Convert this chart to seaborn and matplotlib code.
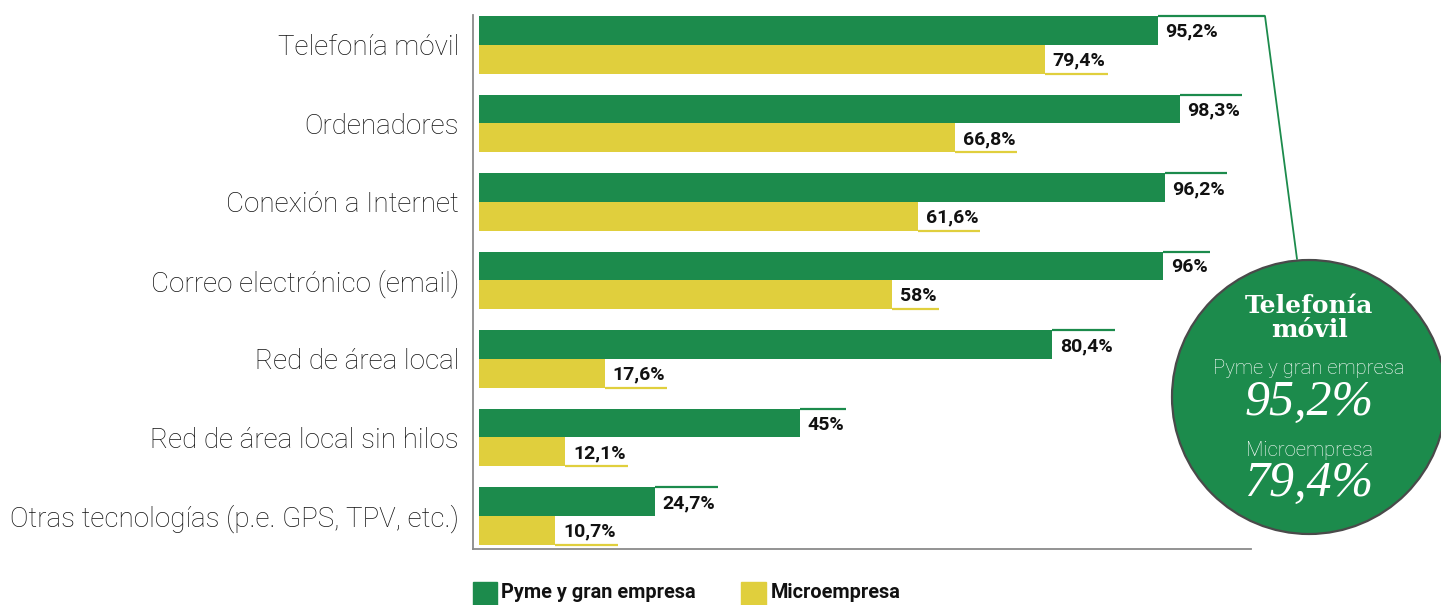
import numpy as np
import pandas as pd
import matplotlib
matplotlib.use("Agg")
import matplotlib.pyplot as plt
import seaborn as sns
from matplotlib.patches import Circle, Rectangle
from matplotlib.lines import Line2D

categories = [
    "Telefonía móvil",
    "Ordenadores",
    "Conexión a Internet",
    "Correo electrónico (email)",
    "Red de área local",
    "Red de área local sin hilos",
    "Otras tecnologías (p.e. GPS, TPV, etc.)",
]
pyme = [95.2, 98.3, 96.2, 96, 80.4, 45, 24.7]
micro = [79.4, 66.8, 61.6, 58, 17.6, 12.1, 10.7]
series = ["Pyme y gran empresa", "Microempresa"]
highlight_title = "Telefonía\nmóvil"
highlight_pyme = "95,2%"
highlight_micro = "79,4%"

GREEN = "#1c8b4c"
YELLOW = "#e0cf3d"

df = pd.DataFrame({
    "cat": categories * 2,
    "serie": [series[0]] * len(categories) + [series[1]] * len(categories),
    "val": pyme + micro,
})

sns.set_theme(style="white")
plt.rcParams["font.family"] = ["Roboto", "DejaVu Sans"]

W, H = 1441, 605
fig = plt.figure(figsize=(W / 100, H / 100), dpi=100)
ax = fig.add_axes([473 / W, (H - 549) / H, (1251 - 473) / W, (549 - 15) / H])

sns.barplot(data=df, y="cat", x="val", hue="serie", order=categories,
            hue_order=series, palette=[GREEN, YELLOW], saturation=1,
            width=0.73, orient="h", errorbar=None, legend=False, ax=ax,
            linewidth=0, edgecolor="none")

ax.set_xlim(-0.85, 108.3)
ax.set_ylim(6.42, -0.38)
ax.set_xticks([])
ax.set_xlabel("")
ax.set_ylabel("")
for s in ["top", "right"]:
    ax.spines[s].set_visible(False)
for s in ["left", "bottom"]:
    ax.spines[s].set_color("#8a8a8a")
    ax.spines[s].set_linewidth(1.3)
ax.tick_params(axis="y", length=0, pad=10, labelsize=20, labelcolor="#111111")
for lab in ax.get_yticklabels():
    lab.set_fontweight("light")


def fmt(v):
    return f"{v:g}".replace(".", ",") + "%"


fig.canvas.draw()
r = fig.canvas.get_renderer()
inv = ax.transData.inverted()
for ci, (cont, col, vals) in enumerate(zip(ax.containers, [GREEN, YELLOW], [pyme, micro])):
    for i, (bar, v) in enumerate(zip(cont, vals)):
        w = bar.get_width()
        y = bar.get_y()
        h = bar.get_height()
        t = ax.annotate(fmt(v), xy=(w, y + h / 2), xytext=(5.5, -1),
                        textcoords="offset points", va="center", ha="left",
                        fontsize=14, fontweight="bold", color="#111111")
        bb = t.get_window_extent(r)
        if ci == 0 and i == 0:
            x_end = inv.transform((1265, 0))[0]
        else:
            x_end = inv.transform((bb.x1 + 2, 0))[0]
        ly = y if ci == 0 else y + h
        ax.plot([w, x_end], [ly, ly], color=col, lw=1.6,
                solid_capstyle="butt", clip_on=False)

# callout line to circle
fig.add_artist(Line2D([1265 / W, 1297 / W], [1 - 16 / H, 1 - 259 / H],
                      color=GREEN, lw=1.3, transform=fig.transFigure))

# circle highlight
cx, cy, rad = 1309, 397, 138
cax = fig.add_axes([(cx - rad) / W, (H - cy - rad) / H, 2 * rad / W, 2 * rad / H])
cax.set_xlim(-rad, rad)
cax.set_ylim(-rad, rad)
cax.axis("off")
cax.add_patch(Circle((0, 0), rad - 1, facecolor=GREEN, edgecolor="#4a4a4a",
                     lw=1.6, clip_on=False))
cax.text(0, cy - 318, highlight_title, ha="center", va="center", color="white",
         family="DejaVu Serif", fontweight="bold", fontsize=18, linespacing=0.95)
cax.text(0, cy - 369, series[0], ha="center", va="center", color="white",
         fontsize=14.6, fontweight="light")
cax.text(0, cy - 403, highlight_pyme, ha="center", va="center", color="white",
         family="Liberation Serif", style="italic", fontsize=36)
cax.text(0, cy - 450, series[1], ha="center", va="center", color="white",
         fontsize=14.6, fontweight="light")
cax.text(0, cy - 484, highlight_micro, ha="center", va="center", color="white",
         family="Liberation Serif", style="italic", fontsize=36)

# legend
fig.patches.append(Rectangle((473 / W, 0), 24 / W, (605 - 582) / H,
                             transform=fig.transFigure, color=GREEN))
fig.text(501 / W, 3 / H, series[0], va="bottom", ha="left", fontsize=14.3,
         fontweight="bold", color="#111111")
fig.patches.append(Rectangle((741 / W, 0), 25 / W, (605 - 582) / H,
                             transform=fig.transFigure, color=YELLOW))
fig.text(771 / W, 3 / H, series[1], va="bottom", ha="left", fontsize=14.3,
         fontweight="bold", color="#111111")

fig.savefig("out.png", dpi=100)
